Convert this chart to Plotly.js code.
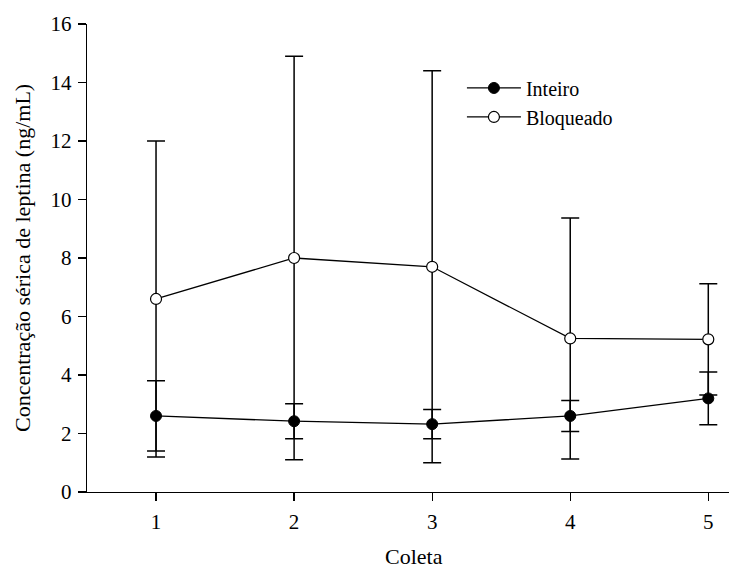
<!DOCTYPE html>
<html><head><meta charset="utf-8">
<script src="https://cdn.plot.ly/plotly-3.0.1.min.js"></script>
<style>body{margin:0;background:#fff}#c{width:729px;height:571px}</style>
</head><body><div id="c"></div>
<script>
const coleta = [1, 2, 3, 4, 5];
const inteiro = [2.6, 2.42, 2.32, 2.6, 3.2];
const inteiroSD = [1.2, 0.6, 0.5, 0.53, 0.9];
const bloqueado = [6.6, 8.0, 7.7, 5.25, 5.22];
const bloqueadoSD = [5.4, 6.9, 6.7, 4.12, 1.9];
const xTitle = 'Coleta';
const yTitle = 'Concentração sérica de leptina (ng/mL)';

const fam = 'Liberation Serif, Times New Roman, serif';
const font = {family: fam, size: 20, color: '#000'};
const tickFont = {family: fam, size: 21, color: '#000'};
const titleFont = {family: fam, size: 22, color: '#000'};

const traces = [
  {x: coleta, y: inteiro, name: 'Inteiro', type: 'scatter', mode: 'lines+markers',
   line: {color: '#000', width: 1.3},
   marker: {symbol: 'circle', size: 11, color: '#000', line: {color: '#000', width: 1}},
   error_y: {type: 'data', array: inteiroSD, visible: true, color: '#000', thickness: 1.5, width: 9}},
  {x: coleta, y: bloqueado, name: 'Bloqueado', type: 'scatter', mode: 'lines+markers',
   line: {color: '#000', width: 1.3},
   marker: {symbol: 'circle', size: 11, color: '#fff', line: {color: '#000', width: 1.2}},
   error_y: {type: 'data', array: bloqueadoSD, visible: true, color: '#000', thickness: 1.5, width: 9}}
];

const layout = {
  width: 729, height: 571,
  margin: {l: 87, r: 0, t: 24, b: 79},
  paper_bgcolor: '#fff', plot_bgcolor: '#fff',
  font: font,
  showlegend: true,
  legend: {x: 0.584, y: 0.905, xanchor: 'left', yanchor: 'top', font: font, bgcolor: 'rgba(0,0,0,0)', tracegroupgap: 0, itemwidth: 54},
  xaxis: {range: [0.5, 5.15], tickvals: coleta, ticktext: coleta.map(String),
    showgrid: false, zeroline: false, showline: true, linecolor: '#000', linewidth: 1.3,
    ticks: 'outside', ticklen: 8, tickwidth: 1.3, tickcolor: '#000', ticklabelstandoff: 2,
    tickfont: tickFont},
  yaxis: {range: [0, 16], dtick: 2, tick0: 0,
    showgrid: false, zeroline: false, showline: true, linecolor: '#000', linewidth: 1.3,
    ticks: 'outside', ticklen: 8, tickwidth: 1.3, tickcolor: '#000', ticklabelstandoff: 2,
    tickfont: tickFont},
  annotations: [
    {text: xTitle, xref: 'paper', yref: 'paper', x: 0.509, y: -0.1368, xanchor: 'center', yanchor: 'middle', showarrow: false, font: titleFont},
    {text: yTitle, xref: 'paper', yref: 'paper', x: -0.1012, y: 0.5, xanchor: 'center', yanchor: 'middle', textangle: -90, showarrow: false, font: titleFont}
  ]
};

Plotly.newPlot('c', traces, layout, {displayModeBar: false, staticPlot: true});
</script></body></html>
